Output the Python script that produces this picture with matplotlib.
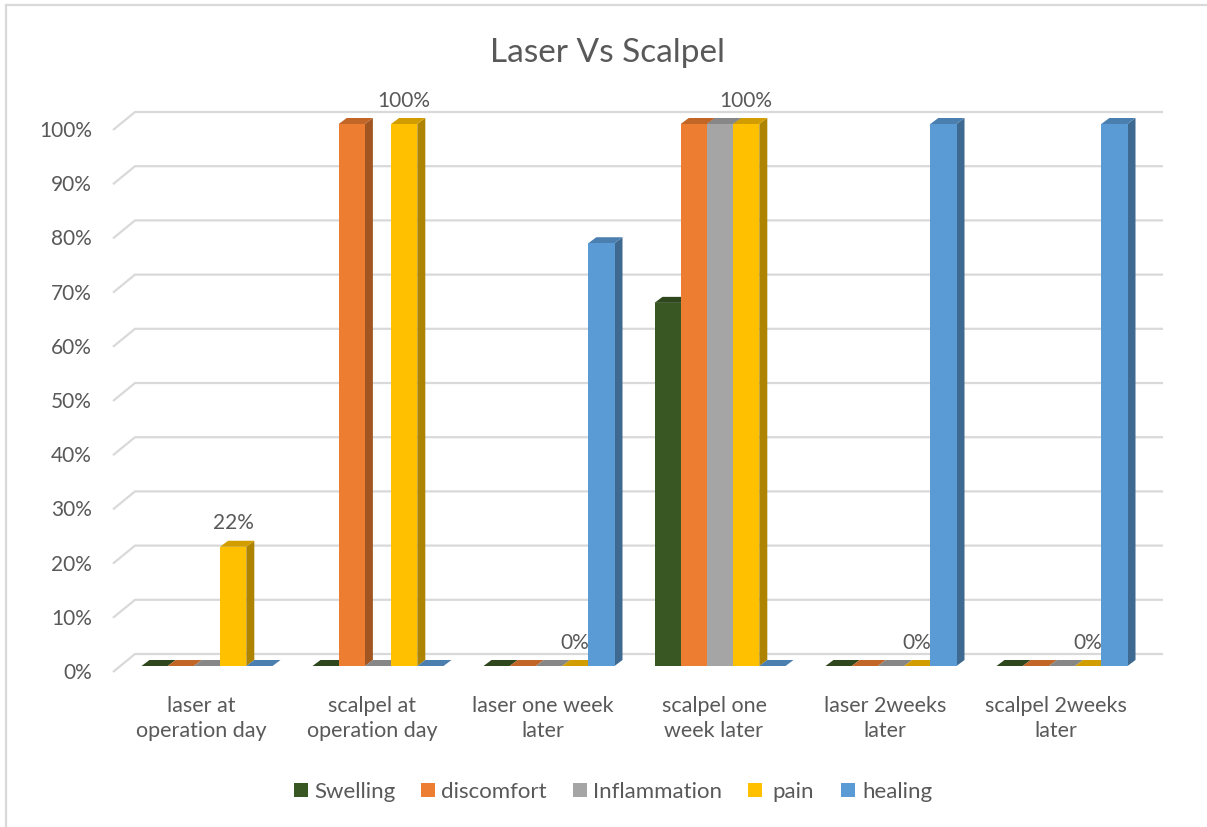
import matplotlib
matplotlib.use("Agg")
import matplotlib.pyplot as plt
from matplotlib.patches import Polygon, Rectangle
from matplotlib.lines import Line2D
import numpy as np

plt.rcParams['font.family'] = ['Lato', 'DejaVu Sans']

# ---- data -------------------------------------------------------------
categories = ["laser at\noperation day", "scalpel at\noperation day",
              "laser one week\nlater", "scalpel one\nweek later",
              "laser 2weeks\nlater", "scalpel 2weeks\nlater"]
series_names = ["Swelling", "discomfort", "Inflammation", "pain", "healing"]
swelling     = [0, 0, 0, 67, 0, 0]
discomfort   = [0, 100, 0, 100, 0, 0]
inflammation = [0, 0, 0, 100, 0, 0]
pain         = [22, 100, 0, 100, 0, 0]
healing      = [0, 0, 78, 0, 100, 100]
y_ticks      = [0, 10, 20, 30, 40, 50, 60, 70, 80, 90, 100]
title = "Laser Vs Scalpel"

series_values = [swelling, discomfort, inflammation, pain, healing]
colors = ["#385723", "#ED7D31", "#A5A5A5", "#FFC000", "#5B9BD5"]
text_color = "#595959"
grid_color = "#D9D9D9"

# ---- canvas & scales -------------------------------------------------
W_PX, H_PX = 1207, 828
fig = plt.figure(figsize=(W_PX / 100, H_PX / 100), dpi=100)
ax = fig.add_axes([0, 0, 1, 1])

X0_PX, XSTEP_PX = 207.0, 171.0      # first category centre, category pitch
Y0_PX, YSTEP_PX = 667.0, 5.42       # zero line, pixels per percent

def px(xp):
    return (xp - X0_PX) / XSTEP_PX

def py(yp):
    return (Y0_PX - yp) / YSTEP_PX

ax.set_xlim(px(0), px(W_PX))
ax.set_ylim(py(H_PX), py(0))
ax.axis("off")

# depth of the pseudo-3D columns
dx = 8.0 / XSTEP_PX
dy = 6.0 / YSTEP_PX
bar_w = 26.2 / XSTEP_PX

def shade(c, f):
    r, g, b = matplotlib.colors.to_rgb(c)
    return (r * f, g * f, b * f)

# ---- back wall gridlines --------------------------------------------
for t in y_ticks:
    xs = [px(113), px(135), px(1163)]
    ys = [t + py(673) , t + py(655), t + py(655)]
    ax.plot(xs, ys, color=grid_color, lw=1.6, zorder=1, solid_capstyle="butt")
    ax.text(px(92), t - 2.2, f"{t}%", ha="right", va="baseline",
            fontsize=15, color=text_color)

# ---- columns ------------------------------------------------------------
n = len(series_values)
x_groups = np.arange(len(categories))
for k, (vals, col) in enumerate(zip(series_values, colors)):
    xs = x_groups + (k - (n - 1) / 2) * bar_w
    z = 3 + 2 * k
    for x, v in zip(xs, vals):
        xl, xr = x - bar_w / 2, x + bar_w / 2
        side = Polygon([(xr, 0), (xr + dx, dy), (xr + dx, v + dy), (xr, v)],
                       closed=True, facecolor=shade(col, 0.68), edgecolor="none",
                       zorder=z)
        top = Polygon([(xl, v), (xl + dx, v + dy), (xr + dx, v + dy), (xr, v)],
                      closed=True, facecolor=shade(col, 0.82), edgecolor="none",
                      zorder=z)
        ax.add_patch(side)
        ax.add_patch(top)
    ax.bar(xs, vals, width=bar_w, color=col, linewidth=0, zorder=z + 1)

# value labels on the pain series
k_pain = series_names.index("pain")
xs_pain = x_groups + (k_pain - (n - 1) / 2) * bar_w
for x, v in zip(xs_pain, pain):
    ax.text(x, v + 3.4, f"{v:.0f}%", ha="center", va="baseline",
            fontsize=15, color=text_color, zorder=20)

# ---- category labels ------------------------------------------------
for g, lab in enumerate(categories):
    for j, line in enumerate(lab.split("\n")):
        ax.text(g - 6.0 / XSTEP_PX, py(712 + 25 * j), line, ha="center",
                va="baseline", fontsize=15.5, color=text_color)

# ---- title ------------------------------------------------------------
ax.text(px(607), py(62), title, ha="center", va="baseline",
        fontsize=24, color=text_color)

# ---- legend -----------------------------------------------------------
sq_left = [294, 421, 573, 748, 841]
txt_left = [314, 441, 593, 772, 862]
sq = 13.5
for name, col, sl, tl in zip(series_names, colors, sq_left, txt_left):
    ax.add_patch(Rectangle((px(sl), py(784 + sq)), sq / XSTEP_PX, sq / YSTEP_PX,
                           facecolor=col, edgecolor="none", zorder=5))
    ax.text(px(tl), py(798), name, ha="left", va="baseline",
            fontsize=16, color=text_color)

# ---- chart border -------------------------------------------------------
fig.add_artist(Line2D([5.5 / W_PX, 1.0], [1 - 5.5 / H_PX, 1 - 5.5 / H_PX],
                      transform=fig.transFigure, color=grid_color, lw=1.6))
fig.add_artist(Line2D([5.5 / W_PX, 5.5 / W_PX], [0.0, 1 - 5.5 / H_PX],
                      transform=fig.transFigure, color=grid_color, lw=1.6))

fig.savefig("out.png", dpi=100, facecolor="white")
